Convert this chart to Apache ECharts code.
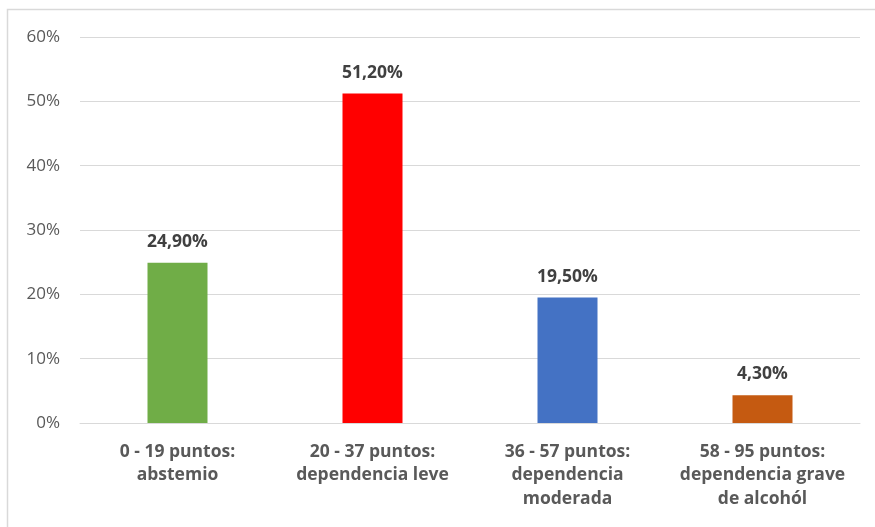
<!DOCTYPE html>
<html><head><meta charset="utf-8">
<script src="https://cdn.jsdelivr.net/npm/echarts@6/dist/echarts.min.js"></script>
<style>html,body{margin:0;padding:0;background:#fff}#c{width:875px;height:527px}</style>
</head><body><div id="c"></div>
<script>
const categories = ["0 - 19 puntos:\nabstemio", "20 - 37 puntos:\ndependencia leve", "36 - 57 puntos:\ndependencia\nmoderada", "58 - 95 puntos:\ndependencia grave\nde alcohól"];
const values = [24.9, 51.2, 19.5, 4.3];
const barColors = ["#70AD47", "#FF0000", "#4472C4", "#C55A11"];
const yTicks = [0, 10, 20, 30, 40, 50, 60];

const chart = echarts.init(document.getElementById('c'), null, {renderer: 'canvas'});
const font = '"Open Sans", "Liberation Sans", sans-serif';
chart.setOption({
  animation: false,
  graphic: [{type: 'rect', shape: {x: 7.5, y: 9.5, width: 900, height: 600}, style: {fill: 'none', stroke: '#d9d9d9', lineWidth: 1.5}, silent: true}],
  grid: {left: 80, right: 15, top: 37, bottom: 104, containLabel: false},
  xAxis: {
    type: 'category', data: categories,
    axisLine: {show: true, lineStyle: {color: '#d9d9d9', width: 1}},
    axisTick: {show: false},
    axisLabel: {color: '#595959', fontFamily: font, fontWeight: 'bold', fontSize: 17.5, lineHeight: 23.5, margin: 17, interval: 0}
  },
  yAxis: {
    type: 'value', min: 0, max: 60, interval: 10,
    axisLine: {show: false}, axisTick: {show: false},
    splitLine: {lineStyle: {color: '#d9d9d9', width: 1}},
    axisLabel: {color: '#595959', fontFamily: font, fontSize: 17, margin: 20,
      formatter: v => yTicks.includes(v) ? v + '%' : ''}
  },
  series: [{
    type: 'bar', barWidth: 60,
    data: values.map((v, i) => ({value: v, itemStyle: {color: barColors[i]}})),
    label: {show: true, position: 'top', distance: 12, color: '#404040', fontFamily: font, fontWeight: 'bold', fontSize: 17.5,
      formatter: p => p.value.toFixed(2).replace('.', ',') + '%'}
  }]
});
</script></body></html>
